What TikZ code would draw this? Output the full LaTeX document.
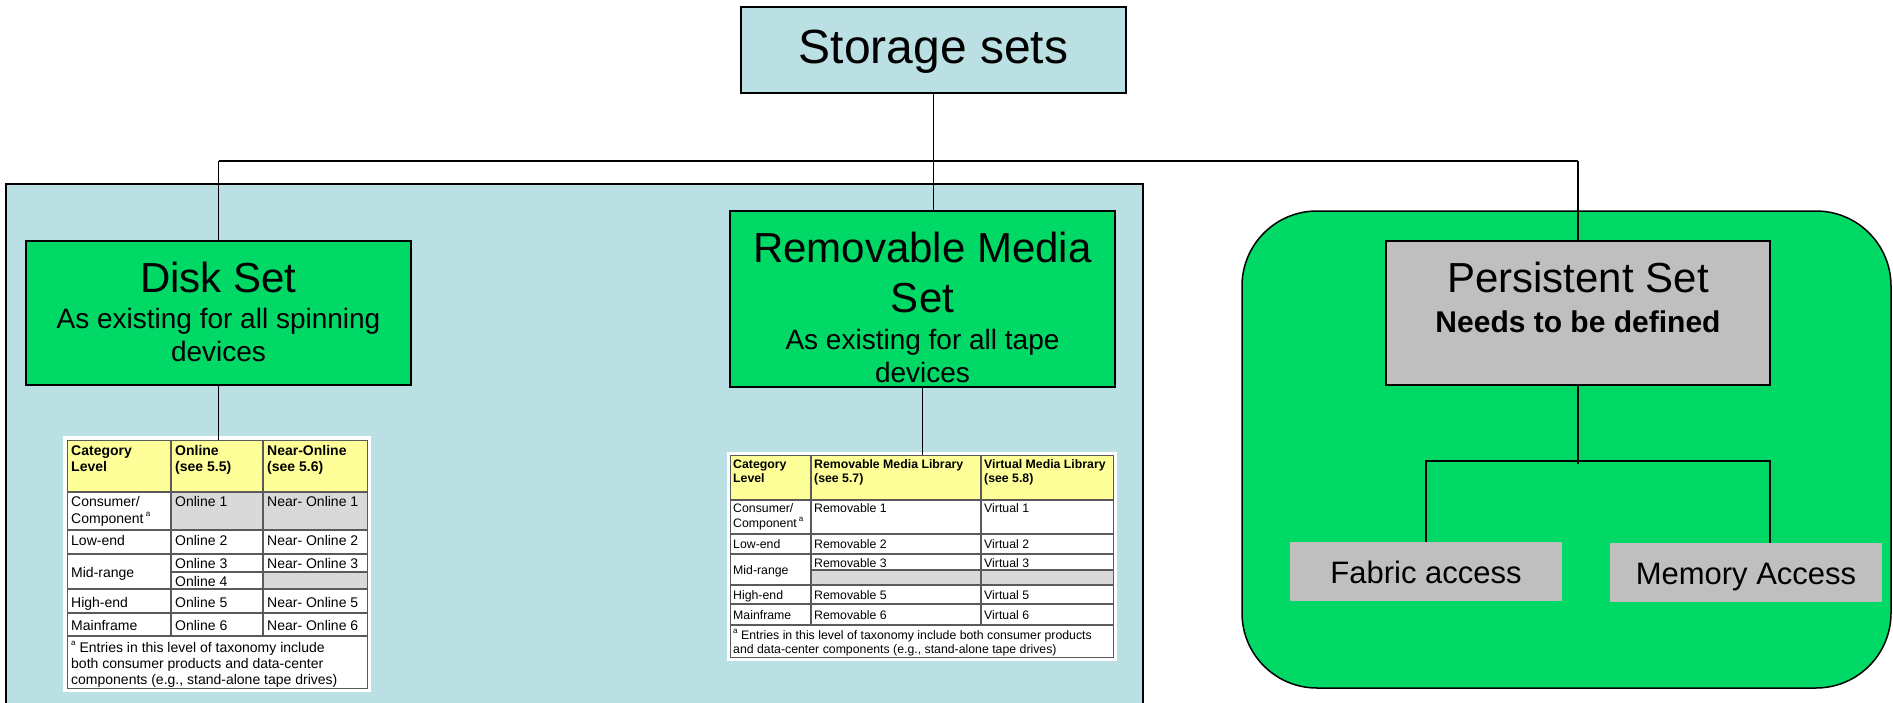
\documentclass[tikz,border=0pt]{standalone}
\usepackage{fontspec}
\setmainfont{Liberation Sans}
\definecolor{lblue}{RGB}{187,224,227}
\definecolor{sgreen}{RGB}{0,217,102}
\definecolor{boxgray}{RGB}{191,191,191}
\definecolor{hdryellow}{RGB}{255,255,153}
\definecolor{cellgray}{RGB}{217,217,217}
\definecolor{tline}{RGB}{90,90,90}
\newcommand\fRoot{\fontsize{48}{56}\selectfont}
\newcommand\fTitle{\fontsize{42}{48}\selectfont}
\newcommand\fSub{\fontsize{28}{32}\selectfont}
\newcommand\fNeed{\fontsize{30}{34}\selectfont\bfseries}
\newcommand\fLeaf{\fontsize{31}{36}\selectfont}
\newcommand\fTa{\fontsize{14}{16}\selectfont}
\newcommand\fTb{\fontsize{12.3}{14}\selectfont}
\newcommand\supA{\raisebox{0.45em}{\fontsize{8}{8}\selectfont a}}
\tikzset{
  setbox/.style={draw=black, line width=2pt, inner sep=0pt, anchor=center},
  leafbox/.style={fill=boxgray, inner sep=0pt, anchor=center},
  txt/.style={anchor=base, inner sep=0pt},
  ctxt/.style={anchor=base west, inner sep=0pt},
  conn/.style={draw=black, line width=1.5pt},
  tframe/.style={draw=tline, line width=1.2pt, inner sep=0pt, anchor=north west},
  tl/.style={draw=tline, line width=1.1pt}
}
\begin{document}
\begin{tikzpicture}[x=1pt,y=-1pt]
\useasboundingbox (0,0) rectangle (1893,702);
\fill[white] (0,0) rectangle (1893,702);

% containers
\draw[fill=lblue, line width=1.5pt] (6,184) rectangle (1143,712);
\draw[fill=sgreen, line width=1.5pt, rounded corners=75pt] (1242,211) rectangle (1891,688);

% bus
\coordinate (busL) at (218.5,161);
\coordinate (busR) at (1578,161);
\coordinate (pj) at (1578,464);
\coordinate (hl) at (1426,461);
\coordinate (hr) at (1770,461);

% main boxes
\node[setbox, fill=lblue, minimum width=385pt, minimum height=86pt] (root) at (933.5,50) {};
\node[setbox, fill=sgreen, minimum width=385pt, minimum height=144pt] (disk) at (218.5,313) {};
\node[setbox, fill=sgreen, minimum width=385pt, minimum height=176pt] (rem) at (922.5,299) {};
\node[setbox, fill=boxgray, minimum width=384pt, minimum height=144pt] (pers) at (1578,313) {};
\node[leafbox, minimum width=272pt, minimum height=59pt] (fa) at (1426,571.5) {};
\node[leafbox, minimum width=272pt, minimum height=59pt] (mem) at (1746,572.5) {};

% connectors
\draw[conn, line width=2pt] (busL) -- (busR);
\draw[conn] (root.south) -- (root.south |- rem.north);
\draw[conn] (busL) -- (disk.north);
\draw[conn] (busR) -- (pers.north);
\draw[conn] (pers.south) -- (pj);
\draw[conn] (fa.north) -- (fa.north |- hl) -- (hr) -- (hr |- mem.north);

% texts of boxes
\node[txt, font=\fRoot] (rootT) at (933.5,63) {Storage sets};
\node[txt, font=\fTitle] (diskT) at (218.5,292) {Disk Set};
\node[txt, font=\fSub] (diskS1) at (218.5,328) {As existing for all spinning};
\node[txt, font=\fSub] (diskS2) at (218.5,361) {devices};
\node[txt, font=\fTitle] (remT1) at (922.5,262) {Removable Media};
\node[txt, font=\fTitle] (remT2) at (922.5,312) {Set};
\node[txt, font=\fSub] (remS1) at (922.5,349) {As existing for all tape};
\node[txt, font=\fSub] (remS2) at (922.5,382) {devices};
\node[txt, font=\fTitle] (persT) at (1578,292) {Persistent Set};
\node[txt, font=\fNeed] (persS) at (1578,332) {Needs to be defined};
\node[txt, font=\fLeaf] (faT) at (1426,583) {Fabric access};
\node[txt, font=\fLeaf] (memT) at (1746,584) {Memory Access};

% ---------------- Disk table ----------------
\fill[white] (63,436) rectangle (371,692);
\fill[hdryellow] (67,440) rectangle (367,492);
\fill[cellgray] (171,492) rectangle (367,530);
\fill[cellgray] (263,572) rectangle (367,589);
\node[tframe, minimum width=300pt, minimum height=248pt] (t1) at (67,440) {};
\draw[conn] (disk.south) -- (disk.south |- t1.north);
\foreach \yy in {492,530,554,589,613,636} \draw[tl] (67,\yy) -- (367,\yy);
\draw[tl] (171,572) -- (367,572);
\draw[tl] (171,440) -- (171,636);
\draw[tl] (263,440) -- (263,636);
\begin{scope}[font=\fTa]
\node[ctxt, font=\fTa\bfseries] (a1) at (71,455) {Category};
\node[ctxt, font=\fTa\bfseries] (a2) at (71,471) {Level};
\node[ctxt, font=\fTa\bfseries] (a3) at (175,455) {Online};
\node[ctxt, font=\fTa\bfseries] (a4) at (175,471) {(see 5.5)};
\node[ctxt, font=\fTa\bfseries] (a5) at (267,455) {Near-Online};
\node[ctxt, font=\fTa\bfseries] (a6) at (267,471) {(see 5.6)};
\node[ctxt] (a7) at (71,506) {Consumer/};
\node[ctxt] (a8) at (71,523) {Component\,\supA};
\node[ctxt] (a9) at (175,506) {Online 1};
\node[ctxt] (a10) at (267,506) {Near- Online 1};
\node[ctxt] (a11) at (71,545) {Low-end};
\node[ctxt] (a12) at (175,545) {Online 2};
\node[ctxt] (a13) at (267,545) {Near- Online 2};
\node[ctxt] (a14) at (71,577) {Mid-range};
\node[ctxt] (a15) at (175,568) {Online 3};
\node[ctxt] (a16) at (267,568) {Near- Online 3};
\node[ctxt] (a17) at (175,586) {Online 4};
\node[ctxt] (a18) at (71,607) {High-end};
\node[ctxt] (a19) at (175,607) {Online 5};
\node[ctxt] (a20) at (267,607) {Near- Online 5};
\node[ctxt] (a21) at (71,630) {Mainframe};
\node[ctxt] (a22) at (175,630) {Online 6};
\node[ctxt] (a23) at (267,630) {Near- Online 6};
\node[ctxt] (a24) at (71,652) {\supA\ Entries in this level of taxonomy include};
\node[ctxt] (a25) at (71,668) {both consumer products and data-center};
\node[ctxt] (a26) at (71,684) {components (e.g., stand-alone tape drives)};
\end{scope}

% ---------------- Removable table ----------------
\fill[white] (727,452) rectangle (1117,661);
\fill[hdryellow] (730,455) rectangle (1113,500);
\fill[cellgray] (811,570) rectangle (1113,585);
\node[tframe, minimum width=383pt, minimum height=202pt] (t2) at (730,455) {};
\draw[conn] (rem.south) -- (rem.south |- t2.north);
\foreach \yy in {500,534,554,585,604,625} \draw[tl] (730,\yy) -- (1113,\yy);
\draw[tl] (811,570) -- (1113,570);
\draw[tl] (811,455) -- (811,625);
\draw[tl] (981,455) -- (981,625);
\begin{scope}[font=\fTb]
\node[ctxt, font=\fTb\bfseries] (b1) at (733,468) {Category};
\node[ctxt, font=\fTb\bfseries] (b2) at (733,482) {Level};
\node[ctxt, font=\fTb\bfseries] (b3) at (814,468) {Removable Media Library};
\node[ctxt, font=\fTb\bfseries] (b4) at (814,482) {(see 5.7)};
\node[ctxt, font=\fTb\bfseries] (b5) at (984,468) {Virtual Media Library};
\node[ctxt, font=\fTb\bfseries] (b6) at (984,482) {(see 5.8)};
\node[ctxt] (b7) at (733,512) {Consumer/};
\node[ctxt] (b8) at (733,527) {Component\,\supA};
\node[ctxt] (b9) at (814,512) {Removable 1};
\node[ctxt] (b10) at (984,512) {Virtual 1};
\node[ctxt] (b11) at (733,548) {Low-end};
\node[ctxt] (b12) at (814,548) {Removable 2};
\node[ctxt] (b13) at (984,548) {Virtual 2};
\node[ctxt] (b14) at (733,574) {Mid-range};
\node[ctxt] (b15) at (814,567) {Removable 3};
\node[ctxt] (b16) at (984,567) {Virtual 3};
\node[ctxt] (b17) at (733,599) {High-end};
\node[ctxt] (b18) at (814,599) {Removable 5};
\node[ctxt] (b19) at (984,599) {Virtual 5};
\node[ctxt] (b20) at (733,619) {Mainframe};
\node[ctxt] (b21) at (814,619) {Removable 6};
\node[ctxt] (b22) at (984,619) {Virtual 6};
\node[ctxt] (b23) at (733,639) {\supA\ Entries in this level of taxonomy include both consumer products};
\node[ctxt] (b24) at (733,653) {and data-center components (e.g., stand-alone tape drives)};
\end{scope}
\end{tikzpicture}
\end{document}
